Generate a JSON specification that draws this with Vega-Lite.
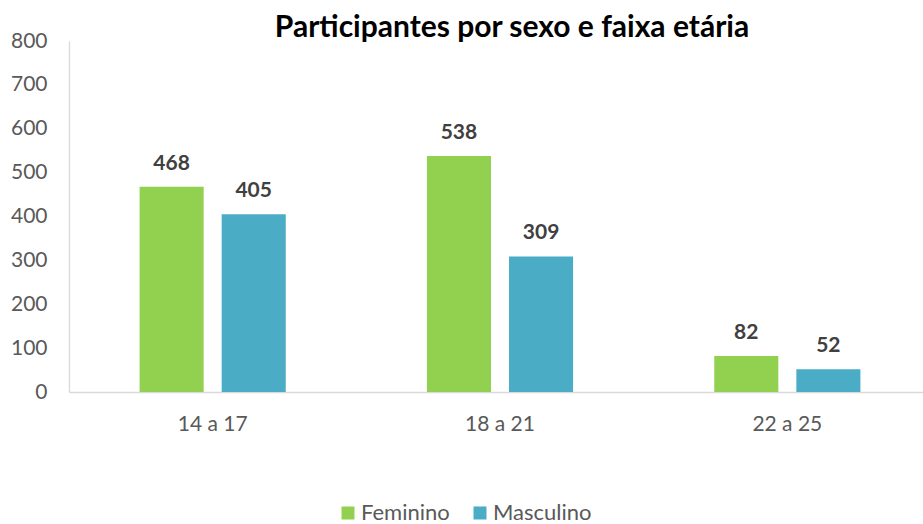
{
  "$schema": "https://vega.github.io/schema/vega-lite/v6.json",
  "autosize": "none",
  "width": 854,
  "height": 351,
  "padding": {"left": 69, "top": 41, "right": 0, "bottom": 132},
  "background": "white",
  "config": {"view": {"stroke": null}, "font": "Lato"},
  "title": {"text": "Participantes por sexo e faixa etária", "font": "Lato", "fontSize": 30, "fontWeight": "bold", "color": "#000000", "anchor": "middle", "frame": "group", "dx": 16, "dy": 19, "offset": 6},
  "data": {"values": [
    {"faixa": "14 a 17", "sexo": "Feminino", "valor": 468},
    {"faixa": "14 a 17", "sexo": "Masculino", "valor": 405},
    {"faixa": "18 a 21", "sexo": "Feminino", "valor": 538},
    {"faixa": "18 a 21", "sexo": "Masculino", "valor": 309},
    {"faixa": "22 a 25", "sexo": "Feminino", "valor": 82},
    {"faixa": "22 a 25", "sexo": "Masculino", "valor": 52}
  ]},
  "encoding": {
    "x": {"field": "faixa", "type": "nominal", "sort": null,
      "scale": {"range": [0, 862], "paddingInner": 0, "paddingOuter": 0},
      "axis": {"title": null, "labelAngle": 0, "ticks": false, "domainColor": "#d9d9d9", "domainWidth": 1.3, "labelFontSize": 21, "labelColor": "#595959", "labelPadding": 21, "labelFont": "Lato"}},
    "xOffset": {"field": "sexo", "type": "nominal", "scale": {"paddingInner": 0.2195, "paddingOuter": 0.86}},
    "y": {"field": "valor", "type": "quantitative",
      "scale": {"domain": [0, 800]},
      "axis": {"title": null, "values": [0,100,200,300,400,500,600,700,800], "grid": false, "ticks": false, "domainColor": "#d9d9d9", "domainWidth": 1.3, "labelFontSize": 21, "labelColor": "#595959", "labelPadding": 22, "labelFont": "Lato"}},
    "color": {"field": "sexo", "type": "nominal",
      "scale": {"domain": ["Feminino", "Masculino"], "range": ["#92d050", "#4bacc6"]},
      "legend": {"title": null, "orient": "none", "direction": "horizontal", "legendX": 268, "legendY": 461, "symbolType": "square", "symbolSize": 169, "symbolStrokeWidth": 0, "labelFontSize": 22, "labelColor": "#595959", "labelFont": "Lato", "columnPadding": 19, "labelOffset": 2}}
  },
  "layer": [
    {"mark": {"type": "bar"}},
    {"mark": {"type": "text", "dy": -13, "baseline": "bottom", "fontSize": 21, "fontWeight": "bold", "color": "#404040", "font": "Lato"},
     "encoding": {"text": {"field": "valor", "type": "quantitative"}, "color": {"value": "#404040"}}}
  ]
}
